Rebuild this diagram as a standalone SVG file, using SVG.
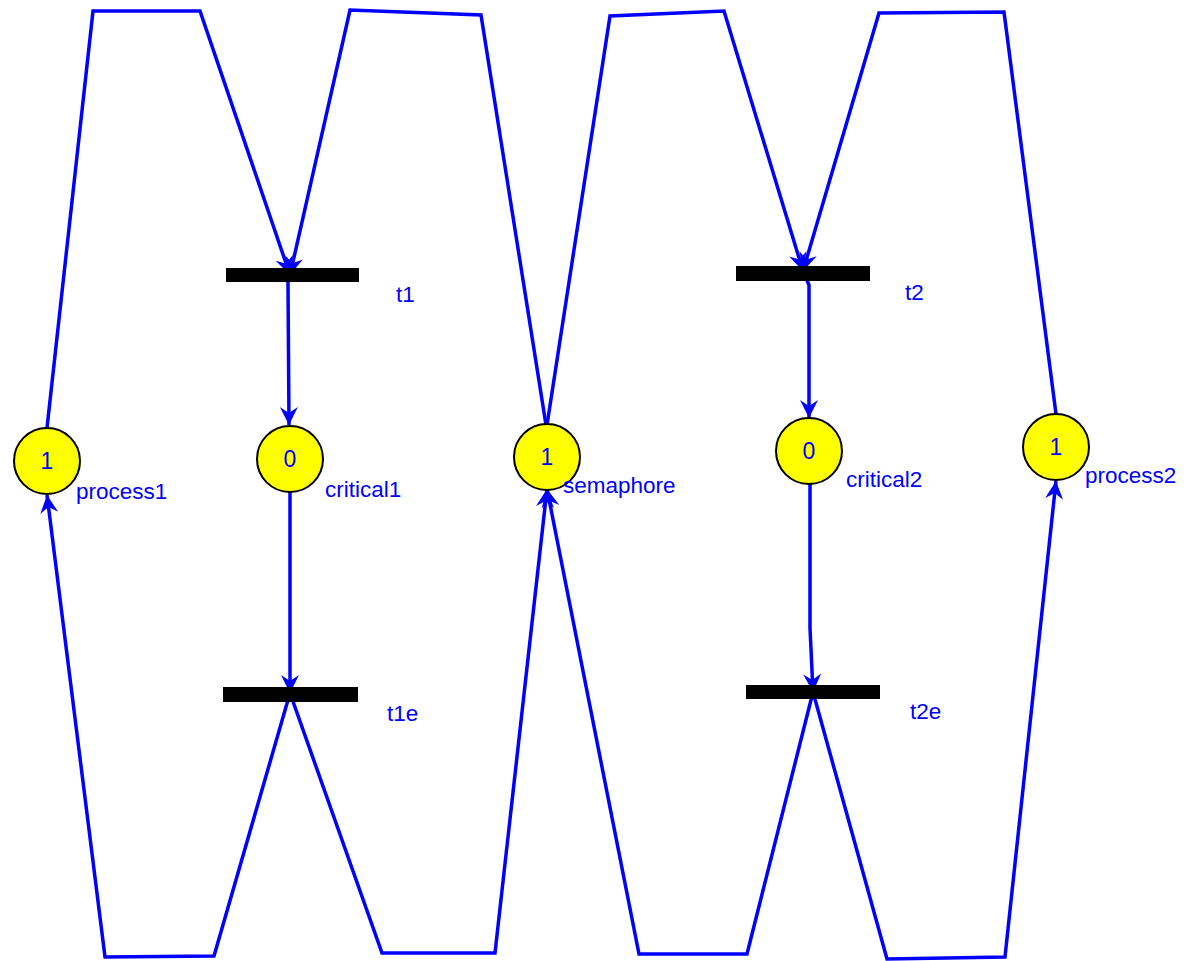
<svg xmlns="http://www.w3.org/2000/svg" width="1191" height="961" viewBox="0 0 1191 961">
  <defs>
    <style>
      .arc { fill: none; stroke: #0000ff; stroke-width: 3.5; stroke-linejoin: miter; marker-end: url(#head); }
      .place { fill: #ffff00; stroke: #000000; stroke-width: 2; }
      .bar { fill: #000000; }
      .tok { font-family: "Liberation Sans", Arial, sans-serif; font-size: 23px; fill: #0000ff; text-anchor: middle; }
      .lbl { font-family: "Liberation Sans", Arial, sans-serif; font-size: 22.5px; fill: #0000ff; }
    </style>
    <marker id="head" viewBox="-20 -11 22 22" refX="0" refY="0" markerWidth="22" markerHeight="22" markerUnits="userSpaceOnUse" orient="auto">
      <path d="M0,0 L-18,-9 L-12,0 L-18,9 Z" fill="#0000ff"/>
    </marker>
  </defs>
  <rect width="1191" height="961" fill="#ffffff"/>

  <!-- arcs -->
  <g id="arcs">
    <path class="arc" d="M47,428 L93,11 L200,11 L290,275"/>
    <path class="arc" d="M546,425 L481,15 L350,10 L290,275"/>
    <path class="arc" d="M290,275 L288,282 L289,425"/>
    <path class="arc" d="M290,492 L290,645 L290,693"/>
    <path class="arc" d="M290,693 L214,956 L105,957 L47,495"/>
    <path class="arc" d="M290,693 L382,953 L495,953 L547,489"/>
    <path class="arc" d="M547,425 L610,16 L724,11 L803,271"/>
    <path class="arc" d="M1056,414 L1004,12 L879,13 L803,271"/>
    <path class="arc" d="M803,271 L809,285 L809,418"/>
    <path class="arc" d="M810,484 L810,628 L813,692"/>
    <path class="arc" d="M813,692 L747,954 L639,954 L547,489"/>
    <path class="arc" d="M813,692 L887,959 L1005,957 L1056,481"/>
  </g>

  <!-- places -->
  <g id="process1">
    <circle class="place" cx="47" cy="461" r="33"/>
    <text class="tok" x="47" y="469">1</text>
    <text class="lbl" x="76" y="499">process1</text>
  </g>
  <g id="critical1">
    <circle class="place" cx="290" cy="459" r="33"/>
    <text class="tok" x="290" y="467">0</text>
    <text class="lbl" x="325" y="497">critical1</text>
  </g>
  <g id="semaphore">
    <circle class="place" cx="547" cy="457" r="33"/>
    <text class="tok" x="547" y="465">1</text>
    <text class="lbl" x="563" y="493">semaphore</text>
  </g>
  <g id="critical2">
    <circle class="place" cx="809" cy="451" r="33"/>
    <text class="tok" x="809" y="459">0</text>
    <text class="lbl" x="846" y="487">critical2</text>
  </g>
  <g id="process2">
    <circle class="place" cx="1056" cy="447" r="33"/>
    <text class="tok" x="1056" y="455">1</text>
    <text class="lbl" x="1085" y="483">process2</text>
  </g>

  <!-- transitions -->
  <g id="t1">
    <rect class="bar" x="226" y="268" width="133" height="14"/>
    <text class="lbl" x="396" y="302">t1</text>
  </g>
  <g id="t1e">
    <rect class="bar" x="223" y="687" width="135" height="15"/>
    <text class="lbl" x="387" y="721">t1e</text>
  </g>
  <g id="t2">
    <rect class="bar" x="736" y="266" width="134" height="15"/>
    <text class="lbl" x="905" y="300">t2</text>
  </g>
  <g id="t2e">
    <rect class="bar" x="746" y="685" width="134" height="14"/>
    <text class="lbl" x="910" y="719">t2e</text>
  </g>
</svg>
